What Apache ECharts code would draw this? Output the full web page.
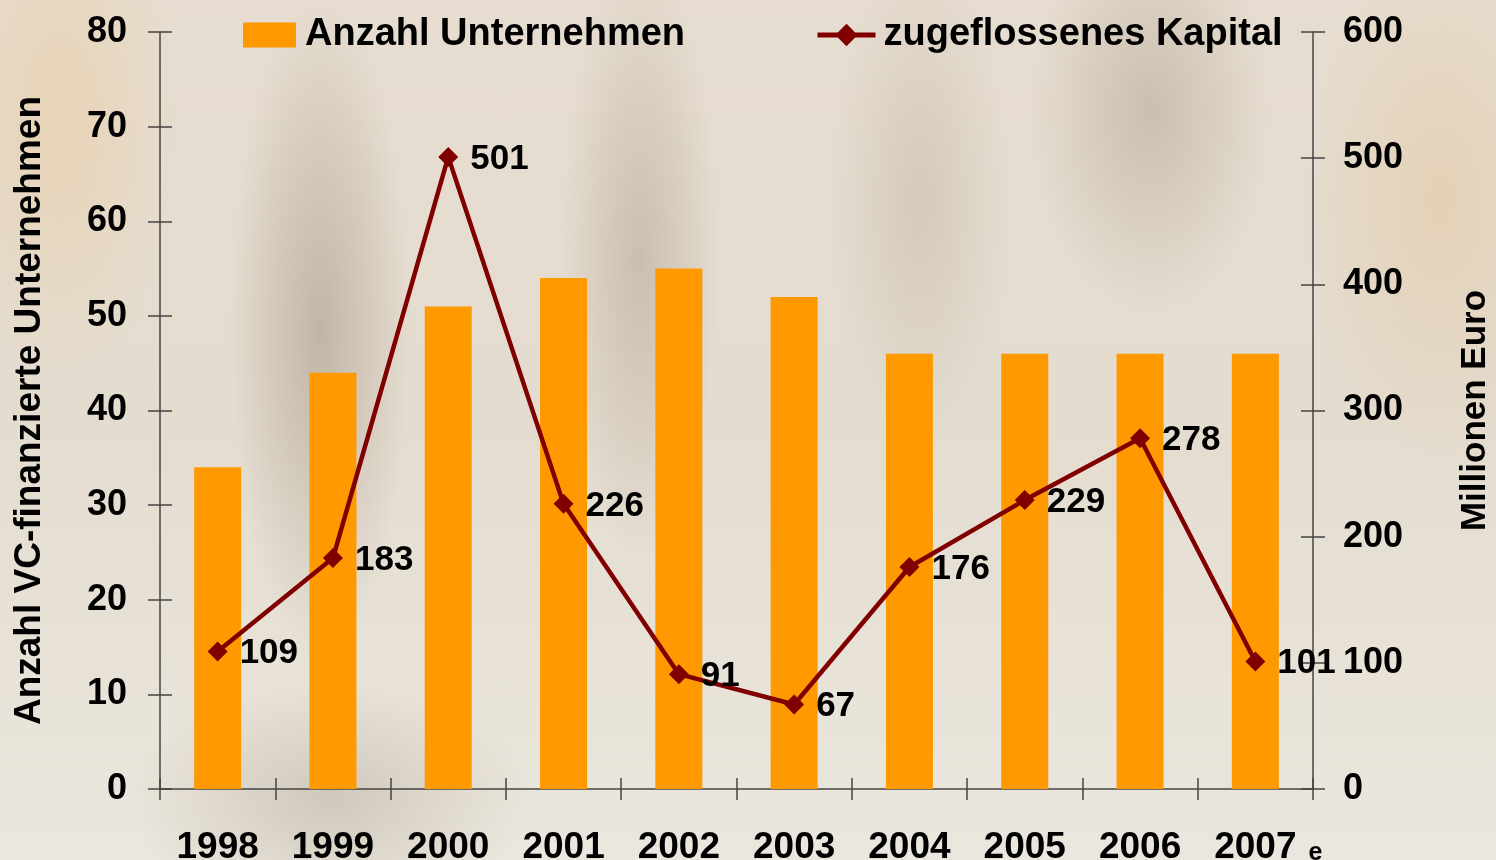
<!DOCTYPE html>
<html>
<head>
<meta charset="utf-8">
<script src="https://cdn.jsdelivr.net/npm/echarts@6/dist/echarts.min.js"></script>
<style>
html,body{margin:0;padding:0;width:1496px;height:860px;overflow:hidden;}
body{
  background:
    radial-gradient(ellipse 90px 330px at 320px 330px, rgba(150,135,115,0.45), rgba(150,135,115,0) 100%),
    radial-gradient(ellipse 80px 300px at 640px 260px, rgba(150,135,115,0.35), rgba(150,135,115,0) 100%),
    radial-gradient(ellipse 120px 200px at 1150px 110px, rgba(150,135,115,0.35), rgba(150,135,115,0) 100%),
    radial-gradient(ellipse 90px 250px at 920px 200px, rgba(160,145,125,0.25), rgba(160,145,125,0) 100%),
    radial-gradient(ellipse 120px 260px at 60px 120px, rgba(235,200,150,0.45), rgba(235,200,150,0) 100%),
    radial-gradient(ellipse 140px 260px at 1440px 200px, rgba(225,195,150,0.45), rgba(225,195,150,0) 100%),
    radial-gradient(ellipse 200px 120px at 330px 800px, rgba(160,145,125,0.35), rgba(160,145,125,0) 100%),
    linear-gradient(180deg, #e6ddd0 0%, #e4dccf 50%, #ebe7de 100%);
}
#chart{width:1496px;height:860px;}
</style>
</head>
<body>
<div id="chart"></div>
<script>
const categories = ['1998','1999','2000','2001','2002','2003','2004','2005','2006','2007'];
const companies = [34, 44, 51, 54, 55, 52, 46, 46, 46, 46];
const capital = [109, 183, 501, 226, 91, 67, 176, 229, 278, 101];
const barName = 'Anzahl Unternehmen';
const lineName = 'zugeflossenes Kapital';
const leftAxisName = 'Anzahl VC-finanzierte Unternehmen';
const rightAxisName = 'Millionen Euro';

const FONT = 'Liberation Sans, Arial, sans-serif';
const axisLineStyle = {color:'#444', width:1.5};
const chart = echarts.init(document.getElementById('chart'), null, {renderer:'canvas'});

const labelBase = {fontFamily:FONT, fontWeight:'bold', fontSize:35, color:'#000'};

chart.setOption({
  backgroundColor:'transparent',
  animation:false,
  grid:{left:160, right:183, top:32, bottom:71, containLabel:false, outerBoundsMode:'none'},
  legend:[
    {data:[{name:barName, icon:'rect'}], left:238, top:11, itemWidth:53, itemHeight:25, itemGap:0,
     textStyle:{...labelBase, fontSize:38, padding:[0,0,0,4]}},
    {data:[lineName], left:810, top:11, itemWidth:58, itemHeight:28, itemGap:0,
     lineStyle:{width:5},
     textStyle:{...labelBase, fontSize:38, padding:[0,0,0,3]}}
  ],
  xAxis:[
    {type:'category', data:categories, boundaryGap:true,
     axisLine:{lineStyle:axisLineStyle},
     axisTick:{show:true, alignWithLabel:false, length:11, lineStyle:axisLineStyle},
     axisLabel:{...labelBase, fontSize:37, margin:40, interval:0,
       formatter:function(v){ return v==='2007' ? '{pad|}2007{e|e}' : v; },
       rich:{
         pad:{width:26},
         e:{fontFamily:FONT, fontWeight:'bold', fontSize:25, color:'#000', width:26, align:'right', verticalAlign:'bottom', padding:[12,0,0,0]}
       }},
     splitLine:{show:false}},
    {type:'category', data:categories, boundaryGap:true, position:'bottom',
     axisLine:{show:false},
     axisTick:{show:true, inside:true, length:11, lineStyle:axisLineStyle},
     axisLabel:{show:false}, splitLine:{show:false}}
  ],
  yAxis:[
    {type:'value', min:0, max:80, interval:10, position:'left',
     name:leftAxisName, nameLocation:'middle', nameGap:112, nameRotate:90,
     nameTextStyle:{...labelBase, fontSize:37},
     axisLine:{show:true, lineStyle:axisLineStyle},
     axisTick:{show:true, length:12, lineStyle:axisLineStyle},
     axisLabel:{...labelBase, fontSize:36, margin:33},
     splitLine:{show:false}},
    {type:'value', min:0, max:600, interval:100, position:'right',
     name:rightAxisName, nameLocation:'middle', nameGap:145, nameRotate:90,
     nameTextStyle:{...labelBase, fontSize:35},
     axisLine:{show:true, lineStyle:axisLineStyle},
     axisTick:{show:true, length:12, lineStyle:axisLineStyle},
     axisLabel:{...labelBase, fontSize:36, margin:30},
     splitLine:{show:false}},
    {type:'value', min:0, max:80, interval:10, position:'left',
     axisLine:{show:false}, axisTick:{show:true, inside:true, length:12, lineStyle:axisLineStyle},
     axisLabel:{show:false}, splitLine:{show:false}},
    {type:'value', min:0, max:600, interval:100, position:'right',
     axisLine:{show:false}, axisTick:{show:true, inside:true, length:12, lineStyle:axisLineStyle},
     axisLabel:{show:false}, splitLine:{show:false}}
  ],
  series:[
    {name:barName, type:'bar', data:companies, xAxisIndex:0, yAxisIndex:0,
     barWidth:47, itemStyle:{color:'#FF9900'}},
    {name:lineName, type:'line', data:capital, xAxisIndex:0, yAxisIndex:1,
     lineStyle:{color:'#800000', width:4.5},
     itemStyle:{color:'#800000'},
     symbol:'diamond', symbolSize:20, z:3,
     label:{show:true, position:'right', distance:12, offset:[0,2], ...labelBase}}
  ]
});
</script>
</body>
</html>
